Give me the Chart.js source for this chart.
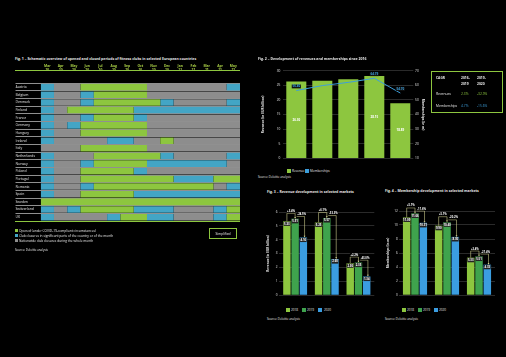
<!DOCTYPE html>
<html><head><meta charset="utf-8">
<script src="https://cdn.jsdelivr.net/npm/chart.js@4.4.1/dist/chart.umd.min.js"></script>
<style>
html,body{margin:0;padding:0;background:#000;overflow:hidden;}
#page{position:relative;width:506px;height:357px;background:#000;overflow:hidden;}
canvas{position:absolute;display:block;}
.t{position:absolute;white-space:nowrap;line-height:1;font-family:'Open Sans',sans-serif;transform-origin:0 0;}
.r{position:absolute;box-sizing:border-box;}
</style></head>
<body><div id="page">
<canvas id="c1" width="228" height="160" style="left:14px;top:64px;width:228px;height:160px"></canvas>
<canvas id="c2" width="176" height="106" style="left:256px;top:62px;width:176px;height:106px"></canvas>
<canvas id="c3" width="116" height="108" style="left:262px;top:196px;width:116px;height:108px"></canvas>
<canvas id="c4" width="118" height="108" style="left:382px;top:196px;width:118px;height:108px"></canvas>
</div>
<script>
// ===================== DATA =====================
const fig1Countries = ['Austria','Belgium','Denmark','Finland','France','Germany','Hungary','Ireland','Italy','Netherlands','Norway','Poland','Portugal','Romania','Spain','Sweden','Switzerland','UK'];
const fig1Months = ['Mar','Apr','May','Jun','Jul','Aug','Sep','Oct','Nov','Dec','Jan','Feb','Mar','Apr','May'];
const fig1Years  = ['20','20','20','20','20','20','20','20','20','20','21','21','21','21','21'];
// O = opened, P = partial closures, C = nationwide closures (one letter per month)
const fig1Status = [
  'PCCOOOOOCCCCCCP', // Austria
  'PCCPOOOOCCCCCCC', // Belgium
  'PCCPOOOOOPCCCCP', // Denmark
  'PCOOOOOPPPPPPPP', // Finland
  'PCCPOOOPCCCCCCC', // France
  'PCPOOOOOCCCCCCC', // Germany
  'PCCOOOOOCCCCCCC', // Hungary
  'PCCCCPPCCOCCCCC', // Ireland
  'CCCOOOOOCCCCCCC', // Italy
  'PCCCOOOOOPCCCCP', // Netherlands
  'PCCPOOOOPPPPPPC', // Norway
  'PCCOOOOPCCCCCCC', // Poland
  'PCCOOOOOOOPPPOO', // Portugal
  'PCCPOOOOOOOOOCP', // Romania
  'PCCOOOOPPPPPPPP', // Spain
  'OOOOOOOOOOOOOOO', // Sweden
  'PCPOOOOPPPCCCPO', // Switzerland
  'PCCCCPOOPPCCCPO'  // UK
];
const fig1Keys = ['O','P','C'];
const fig1Names = ['Opened (under COVID-19-compliant circumstances)','Club closures in significant parts of the country or of the month','Nationwide club closures during the whole month'];

const fig2Years = ['2016','2017','2018','2019','2020'];
const fig2Revenue = [26.30, 26.60, 27.10, 28.15, 18.89];
const fig2Members = [56.40, 59.80, 62.00, 64.79, 54.70];
const fig2LabelIdx = [0, 3, 4];
const cagrHeads = ['2016–\n2019', '2019–\n2020'];
const cagrRevenue = ['2.3%', '-32.9%'];
const cagrMembers = ['4.7%', '-15.6%'];

const marketNames = ['Germany','UK','Spain'];
const yearNames = ['2018','2019','2020'];
const fig3Rev2018 = [5.33, 5.25, 2.30];
const fig3Rev2019 = [5.51, 5.57, 2.35];
const fig3Rev2020 = [4.16, 2.60, 1.34];
const fig3Up   = ['+3.4%', '+6.1%', '+2.2%'];
const fig3Down = ['-24.5%', '-53.3%', '-43.0%'];
const fig4Mem2018 = [11.09, 9.90, 5.33];
const fig4Mem2019 = [11.66, 10.40, 5.51];
const fig4Mem2020 = [10.31, 8.30, 4.33];
const fig4Up   = ['+5.1%', '+5.1%', '+3.4%'];
const fig4Down = ['-11.6%', '-20.2%', '-21.4%'];

// ===================== STYLE =====================
const GREEN = '#8dc63f', BLUE_H = '#43a5c5', GRAY_H = '#8d8d8d';
const C2018 = '#8dc63f', C2019 = '#3fa34d', C2020 = '#3b9de0', LINEBLUE = '#3d9fdb';
const statusColors = {O: GREEN, P: BLUE_H, C: GRAY_H};
const FONT = "'Open Sans', sans-serif";
const page = document.getElementById('page');
const K = 5;
function T(x, y, s, o) {
  o = o || {};
  const d = document.createElement('div');
  d.className = 't';
  d.textContent = s;
  d.style.left = x + 'px'; d.style.top = y + 'px';
  d.style.fontSize = ((o.size || 3.3) * K) + 'px';
  d.style.color = o.color || '#e8e8e8';
  d.style.fontWeight = o.weight || 400;
  const tx = o.align === 'center' ? '-50%' : (o.align === 'right' ? '-100%' : '0');
  d.style.transform = (o.rot ? 'rotate(' + o.rot + 'deg) ' : '') + 'scale(' + (1 / K) + ') translate(' + tx + ',-50%)';
  page.appendChild(d);
}
function R(x, y, w, h, fill, border) {
  const d = document.createElement('div');
  d.className = 'r';
  Object.assign(d.style, {left: x + 'px', top: y + 'px', width: w + 'px', height: h + 'px'});
  if (fill) d.style.background = fill;
  if (border) d.style.border = border;
  page.appendChild(d);
}

Chart.defaults.font.family = FONT;
Chart.defaults.color = '#e6e6e6';
Chart.defaults.animation = false;
Chart.defaults.responsive = false;
Chart.defaults.plugins.legend.display = false;
Chart.defaults.plugins.tooltip.enabled = false;

// ===================== FIG 1 =====================
function runs(key) {
  const out = [];
  fig1Status.forEach((row, r) => {
    let i = 0;
    while (i < row.length) {
      let j = i;
      while (j < row.length && row[j] === row[i]) j++;
      if (row[i] === key) out.push({y: fig1Countries[r], x: [i, j]});
      i = j;
    }
  });
  return out;
}
new Chart(document.getElementById('c1'), {
  type: 'bar',
  data: {
    labels: fig1Countries,
    datasets: fig1Keys.map((k, i) => ({
      label: fig1Names[i], data: runs(k), backgroundColor: statusColors[k],
      borderWidth: 0, barPercentage: 1, categoryPercentage: 0.86, grouped: false
    }))
  },
  options: {
    indexAxis: 'y',
    devicePixelRatio: 1,
    layout: {padding: {left: 1.5, right: 2, top: 0, bottom: 3}},
    scales: {
      x: {
        type: 'linear', position: 'top', min: 0, max: fig1Months.length,
        grid: {display: false}, border: {display: false},
        afterBuildTicks: s => { s.ticks = fig1Months.map((m, i) => ({value: i + 0.5})); },
        afterFit: s => { s.height = 19.3; },
        ticks: {autoSkip: false, maxRotation: 0, minRotation: 0, padding: 3.9, color: '#a9cf46',
          font: {size: 3.3, weight: 'bold', lineHeight: 1.05},
          callback: (v, i) => [fig1Months[i], fig1Years[i]]}
      },
      y: {
        type: 'category', offset: true,
        grid: {offset: true, color: '#cfcfcf', lineWidth: 0.7, tickLength: 25.2, drawTicks: true},
        border: {display: false},
        afterFit: s => { s.width = 25.2; },
        ticks: {crossAlign: 'far', padding: 0, autoSkip: false, color: '#e6e6e6', font: {size: 3.4}}
      }
    }
  }
});
T(15, 59.3, 'Fig. 1 – Schematic overview of opened and closed periods of fitness clubs in selected European countries', {size: 3.5, weight: 700});
R(15, 70.3, 225, 0.9, GREEN);
R(15, 221, 225, 0.9, GREEN);
fig1Keys.forEach((k, i) => {
  R(15, 229.2 + i * 5, 3.2, 3.2, statusColors[k]);
  T(19.3, 230.8 + i * 5, fig1Names[i], {size: 3.2});
});
T(15, 249.7, 'Source: Deloitte analysis', {size: 2.9});
R(209, 228, 27.5, 11.4, null, '0.9px solid ' + GREEN);
T(222.7, 233.7, 'Simplified', {size: 3.3, align: 'center'});

// ===================== FIG 2 =====================
const fig2Labels = {
  id: 'fig2Labels',
  afterDatasetsDraw(chart) {
    const ctx = chart.ctx;
    const lineMeta = chart.getDatasetMeta(0), barMeta = chart.getDatasetMeta(1);
    ctx.save();
    ctx.textAlign = 'center'; ctx.textBaseline = 'middle';
    ctx.font = 'bold 3px ' + FONT;
    fig2LabelIdx.forEach(i => {
      const b = barMeta.data[i];
      ctx.fillStyle = '#ffffff';
      ctx.fillText(fig2Revenue[i].toFixed(2), b.x, (b.y + b.base) / 2);
      const p = lineMeta.data[i];
      const s = fig2Members[i].toFixed(2);
      const w = ctx.measureText(s).width + 1.4;
      ctx.fillStyle = '#111';
      ctx.fillRect(p.x - w / 2, p.y - 6, w, 3.8);
      ctx.fillStyle = LINEBLUE;
      ctx.fillText(s, p.x, p.y - 4.1);
    });
    ctx.restore();
  }
};
new Chart(document.getElementById('c2'), {
  type: 'bar',
  data: {
    labels: fig2Years,
    datasets: [
      {type: 'line', label: 'Memberships', data: fig2Members, yAxisID: 'y1', borderColor: LINEBLUE, backgroundColor: LINEBLUE,
        borderWidth: 1, pointRadius: 0, tension: 0, order: 0},
      {type: 'bar', label: 'Revenue', data: fig2Revenue, yAxisID: 'y', backgroundColor: GREEN,
        barPercentage: 0.77, categoryPercentage: 1, order: 1}
    ]
  },
  options: {
    devicePixelRatio: 1,
    layout: {padding: {left: 0, right: 0, top: 8.7, bottom: 0}},
    scales: {
      x: {grid: {display: false}, border: {display: false},
        afterFit: s => { s.height = 9.7; },
        ticks: {padding: 1.5, font: {size: 3.2}, color: '#e0e0e0'}},
      y: {position: 'left', min: 0, max: 30, ticks: {stepSize: 5, padding: 3, font: {size: 3.2}, color: '#e0e0e0'},
        grid: {color: '#474747', lineWidth: 0.6, drawTicks: false}, border: {display: false},
        afterFit: s => { s.width = 27.3; },
        title: {display: true, text: 'Revenue (in EUR billion)', font: {size: 3.2, weight: 'bold'}, color: '#e6e6e6', padding: {top: 5.2, bottom: 0}}},
      y1: {position: 'right', min: 10, max: 70, ticks: {stepSize: 10, padding: 1.8, font: {size: 3.2}, color: '#e0e0e0'},
        grid: {drawOnChartArea: false, drawTicks: false}, border: {display: false},
        afterFit: s => { s.width = 18.7; },
        title: {display: true, text: 'Memberships (in m)', font: {size: 3.2, weight: 'bold'}, color: '#e6e6e6', padding: {top: 7.3, bottom: 0}}}
    }
  },
  plugins: [fig2Labels]
});
T(258.3, 59.3, 'Fig. 2 – Development of revenues and memberships since 2016', {size: 3.5, weight: 700});
R(286.7, 168.7, 4, 4, GREEN); T(291.7, 170.8, 'Revenue', {size: 3.1});
R(305, 168.7, 4, 4, LINEBLUE); T(310, 170.8, 'Memberships', {size: 3.1});
T(258.3, 176.9, 'Source: Deloitte analysis', {size: 2.9});

// CAGR box
R(431, 71, 72, 42.3, null, '0.9px solid ' + GREEN);
T(435.5, 78.2, 'CAGR', {size: 3.3, weight: 700});
cagrHeads.forEach((h, i) => {
  const parts = h.split('\n');
  T(460.5 + i * 16, 78.2, parts[0], {size: 3.3, weight: 700});
  T(460.5 + i * 16, 83.9, parts[1], {size: 3.3, weight: 700});
});
T(435.5, 94.4, 'Revenues', {size: 3.3});
T(435.5, 105.8, 'Memberships', {size: 3.3});
cagrRevenue.forEach((v, i) => T(461 + i * 16, 94.4, v, {size: 3.3, color: GREEN}));
cagrMembers.forEach((v, i) => T(461 + i * 16, 105.8, v, {size: 3.3, color: LINEBLUE}));

// ===================== FIG 3 & 4 =====================
function makeBracketPlugin(up, down) {
  return {
    id: 'brackets',
    afterDatasetsDraw(chart) {
      const ctx = chart.ctx;
      const m = [0, 1, 2].map(i => chart.getDatasetMeta(i).data);
      ctx.save();
      // value boxes
      ctx.textAlign = 'center'; ctx.textBaseline = 'middle';
      ctx.font = 'bold 2.8px ' + FONT;
      chart.data.datasets.forEach((ds, di) => {
        m[di].forEach((bar, j) => {
          const w = bar.width - 0.8, h = 4.2;
          ctx.fillStyle = '#242424';
          ctx.fillRect(bar.x - w / 2, bar.y + 0.4, w, h);
          ctx.fillStyle = '#ffffff';
          ctx.fillText(ds.data[j].toFixed(2), bar.x, bar.y + 0.4 + h / 2 + 0.1);
        });
      });
      // brackets
      const col = '#dcdc96';
      function arrow(x, y) {
        ctx.beginPath(); ctx.moveTo(x - 0.9, y - 1.7); ctx.lineTo(x + 0.9, y - 1.7); ctx.lineTo(x, y); ctx.closePath(); ctx.fill();
      }
      function label(s, x, y) {
        ctx.font = 'bold 2.7px ' + FONT;
        const w = ctx.measureText(s).width + 1;
        ctx.fillStyle = '#000';
        ctx.fillRect(x - w / 2, y - 1.6, w, 3.2);
        ctx.fillStyle = '#ffffff';
        ctx.fillText(s, x, y);
      }
      ctx.lineWidth = 0.55;
      for (let j = 0; j < m[0].length; j++) {
        const a = m[0][j], b = m[1][j], c = m[2][j];
        const yH = Math.min(a.y, b.y) - 5.5;
        ctx.strokeStyle = col; ctx.fillStyle = col;
        ctx.beginPath(); ctx.moveTo(a.x, a.y); ctx.lineTo(a.x, yH); ctx.lineTo(b.x, yH); ctx.lineTo(b.x, b.y - 1.2); ctx.stroke();
        arrow(b.x, b.y);
        const yH2 = b.y - 2.4;
        const xc = c.x + 1.2;
        ctx.strokeStyle = col; ctx.fillStyle = col;
        ctx.beginPath(); ctx.moveTo(b.x + 1.5, yH2); ctx.lineTo(xc, yH2); ctx.lineTo(xc, c.y - 1.2); ctx.stroke();
        arrow(xc, c.y);
        label(up[j], (a.x + b.x) / 2, yH - 2.2);
        label(down[j], (b.x + xc) / 2 + 1.8, yH2 - 2.2);
      }
      ctx.restore();
    }
  };
}
function groupedChart(id, d18, d19, d20, max, step, title, up, down, yW, titlePad, tickPad, topPad, rightPad) {
  const mk = (label, data, color) => ({label, data, backgroundColor: color, borderWidth: 0, barPercentage: 0.9, categoryPercentage: 0.78});
  new Chart(document.getElementById(id), {
    type: 'bar',
    data: {labels: marketNames, datasets: [mk(yearNames[0], d18, C2018), mk(yearNames[1], d19, C2019), mk(yearNames[2], d20, C2020)]},
    options: {
      devicePixelRatio: 1,
      layout: {padding: {left: 0, right: rightPad, top: topPad, bottom: 0}},
      scales: {
        x: {grid: {display: false}, border: {display: false}, afterFit: s => { s.height = 9; },
          ticks: {padding: 1.5, font: {size: 3.1}, color: '#e0e0e0'}},
        y: {min: 0, max: max, ticks: {stepSize: step, padding: tickPad, font: {size: 3.1}, color: '#e0e0e0'},
          grid: {color: '#474747', lineWidth: 0.6, drawTicks: false}, border: {display: false},
          afterFit: s => { s.width = yW; },
          title: {display: true, text: title, font: {size: 3.1, weight: 'bold'}, color: '#e6e6e6', padding: {top: titlePad, bottom: 0}}}
      }
    },
    plugins: [makeBracketPlugin(up, down)]
  });
}
groupedChart('c3', fig3Rev2018, fig3Rev2019, fig3Rev2020, 6, 1, 'Revenue (in EUR billion)', fig3Up, fig3Down, 17.3, 4.3, 1.8, 16, 3.7);
groupedChart('c4', fig4Mem2018, fig4Mem2019, fig4Mem2020, 12, 2, 'Memberships (in m)', fig4Up, fig4Down, 17, 3.8, 1.2, 15, 5);

T(267.3, 191.7, 'Fig. 3 – Revenue development in selected markets', {size: 3.5, weight: 700});
T(385, 191.3, 'Fig. 4 – Membership development in selected markets', {size: 3.5, weight: 700});
[C2018, C2019, C2020].forEach((c, i) => {
  const x3 = [285.7, 301.7, 318.3][i], x4 = [401.7, 417.7, 434][i];
  R(x3, 308.3, 4, 4, c); T(x3 + 5.3, 310.4, yearNames[i], {size: 3.1});
  R(x4, 308.3, 4, 4, c); T(x4 + 5.3, 310.4, yearNames[i], {size: 3.1});
});
T(267.3, 319.4, 'Source: Deloitte analysis', {size: 2.9});
T(385, 319.4, 'Source: Deloitte analysis', {size: 2.9});
</script>
</body></html>
